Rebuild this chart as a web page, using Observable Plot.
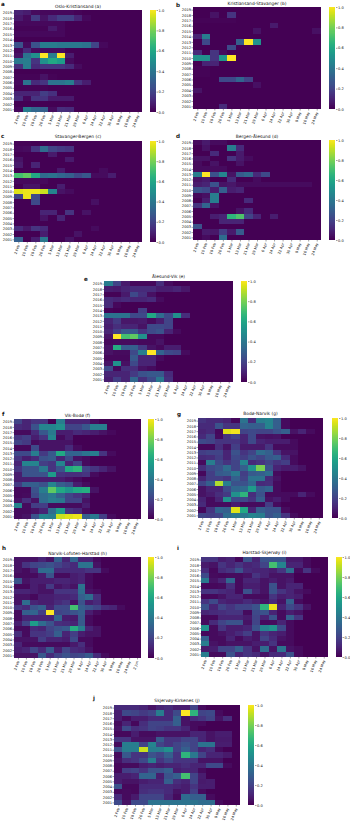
<!DOCTYPE html>
<html>
<head>
<meta charset="utf-8">
<script src="https://cdn.jsdelivr.net/npm/d3@7"></script>
<script src="https://cdn.jsdelivr.net/npm/@observablehq/plot@0.6"></script>
<style>
html,body{margin:0;padding:0;background:#fff}
#chart{position:relative;width:350px;height:823px;overflow:hidden;font-family:"DejaVu Sans",sans-serif;color:#111}
#chart svg{position:absolute;background:transparent;max-width:none;overflow:visible}
.t{position:absolute;font-size:4.4px;line-height:5px;white-space:nowrap;transform:translate(-50%,-50%)}
.l{position:absolute;font-size:5.6px;line-height:6px;font-weight:bold;transform:translateY(-50%)}
</style>
</head>
<body>
<div id="chart"></div>
<script>
const years = ["2019","2018","2017","2016","2015","2014","2013","2012","2011","2010","2009","2008","2007","2006","2005","2004","2003","2002","2001"];
const dates = ["2 Feb","10 Feb","18 Feb","26 Feb","5 Mar","13 Mar","21 Mar","29 Mar","6 Apr","14 Apr","22 Apr","30 Apr","8 May","16 May","24 May"];
const datesLong = [...dates,"2 Jun"];
const colorbarTicks = [0,0.2,0.4,0.6,0.8,1];

const osloKristiansand = [
[.1,.08,.03,.02,.02,.02,.02,.01],
[.07,.03,.17,.05,.12,.18,.18,.1,.02],
[.02,.02,.02,.02,.02,.02],
[.01,.01,.01,.01,.07,.02],
[.02,.02,.02,.02,.02,.02],
[],
[.25,.03,.25,.42,.42,.4,.4,.4,.38,.2,.02],
[.02,.12,.03,.03,.03,.03],
[.05,.38,.5,1,.42,1,.08],
[.4,.42,.15,.5,.6,.55,.03],
[.13,.42,.12,.15,.15,.15,.12,.03],
[],
[.01,.01,.01,.05,.01],
[.02,.38,.12,.15,.38,.38,.42,.15,.08],
[.01,.01,.01,.01],
[.1,.1,.1,.18,.14],
[.13,.02,.15,.15,.07,.07,.07],
[],
[.02,.42,.33,.3,.03,.13,.12]];

const kristiansandStavanger = [
[],
[0,0,.05,0,.15],
[.01,.01,.01,.01,.01],
[0,0,0,0,0,0,0,0,0,.07],
[0,0,0,0,0,0,0,.05,0,0,0,0,0,0,.04],
[.1,.42],
[0,.22,0,0,0,.3,1,.5],
[0,0,0,0,.22],
[.12,0,.15,.03],
[.5,.5,.15,.52,1],
[0,.1,.1],
[.01,.01],
[.01,.01],
[0,0,0,.22,.22,.32,.2],
[0,0,0,0,0,0,0,.04],
[.05],
[],
[],
[0,0,0,.12]];

const stavangerBergen = [
[.01,.01],
[.02,.03,.15,.35,.2,.17,.15],
[0,0,0,0,.07],
[.05,0,0,0,0,0,.07],
[.07,0,.1],
[0,0,0,0,0,.07,0,0,0,0,.03],
[.7,.75,.6,.35,.38,.33,.3,.22,.27,.03,.03,.08],
[.02,.02,.02,.02],
[0,.05,.05,0,0,.08],
[.95,.97,.97,.92,.45,.05,.03],
[.2,.97,.22],
[0,0,.22,0,0,0,0,0,0,.04],
[],
[0,0,0,.1,.1,0,.15,0,.05],
[0,0,0,.05,0,.1],
[],
[.12,.06,.15,.12,0,0,0,0,0,.03],
[0,0,0,.08,0,0,0,.05],
[.3,0,.08,.4,0,0,.05]];

const bergenAlesund = [
[.03,.07,.03,.03],
[0,.05,0,0,.42,.12],
[0,0,.12,0,0,.07],
[.05,.05,0,0,.15,.07,.03],
[.03,0,.05,0,0,.05],
[.03,.03,.03,.03],
[.42,1,.25,.45,.05,.28,.33,.12,.22],
[.05,.07,0,0,.12,0,0,.03],
[.08,.1,.25,.05,.06,.03,.03,.03,.03,.03,.03,.03,.03,.03],
[.25,.22,.08,.3,.08,.1],
[.02,.04,.42],
[0,.08,.42,0,0,0,.12],
[.15,.32,.05],
[0,0,0,0,0,.05,.12],
[0,0,.08,.1,.65,.72,.2,.1,0,.08],
[0,0,0,.1,.1,.1],
[.25],
[0,.07,.06,.18,.07,.28],
[0,.03,0,.35]];

const alesundVik = [
[.42,.2,.07,.02,.02,.02,.13,.03],
[.08,.07,.1,.12,.12,.12,.08,.08,.1,.06],
[.01,.01,.07,.22,.14,.04],
[.12,.1,.12,.1,.1,.12,.03],
[.12,.02],
[.01,0,0,0,.18],
[.38,.38,.38,.22,.22,.6,.35,.22,.5,.13],
[.1,.17,.06,.06,.07,.03,.08,.2],
[.08,.13,.1,.1,.05,.22,.22,.2],
[.1,.18,.27,.27,.15,.22,.25,.1,.03],
[.05,1,.7,.75,.5,.02,.02],
[.02,.03,.03,.03,.02,.02,.05],
[.05,.62,.28,.3,.17,.05,.02,.08,.08],
[.05,.03,.03,.22,.42,1,.32,.22,.2,.03],
[.02,.02,.02,.27,.1,.1,.03],
[.05,.5,.04,.22,.1,.1],
[.22,.02,.13,.13,.05,.03],
[.1,.1,.1,.17,.25,.27,.27,.12],
[.08,.18,.1,.33,.13,.22,.4,.14]];

const vikBodo = [
[.2,.1,.15,.15,0,.42,.1,.1,.1,.03],
[.12,.1,.25,.45,.45,.5,.2,.2,.27,.42,.42],
[.03,.03,.12,.27,.4,.08,.08,.12,.1,.08,.05,.02],
[.15,.18,.08,.15,.45,.03,.08],
[.2,.17,.03,.05,.05,.05,.05],
[.02,.02,.22,.05,.05,.05,.12,.03],
[.22,.22,.42,.17,.27,.6,.32,.32,.38,.42,.15,.03],
[.15,.08,.12,.25,.28,.1,.22,.05,.03],
[.1,.45,.45,.18,.15,.45,.1,.2,.03],
[.15,.25,.25,.4,.15,.25,.6,.65,.2,.15,.1,.05],
[.08,.25,.25,.25,.55,.15,.13,.13,.15,.03],
[.08,.08,.08,.08,.08,.08,.05,.03],
[.17,.3,.3,.25,.45,.3,.25,.08,.03],
[.02,.02,.25,.42,.75,.6,.52,.6,.62,.05],
[.02,.03,.22,.35,.4,.3,.2,.15,.1],
[.05,.13,.05,.35,.42,.4,.2,.2,.05],
[.45,.03,.18,.18,.03,.03,.03,.03,.08],
[.03,.03,.05,.1,.35,.55,.15,.12,.03],
[.03,.05,.25,.45,.42,.92,.95,.97,.3,.4,.18,.03]];

const bodoNarvik = [
[.15,.12,.12,.1,.02,.38,.12,.42,.45,.3,.03],
[.12,.12,.25,.15,.15,.32,.3,.3,.45,.3,.03],
[.1,.12,.02,.95,.98,.2,.22,.2,.2,.25,.3,.05,.1,.03],
[.12,.2,.03,.15,.2,.1,.22,.05,.04,.05],
[.22,.2,.15,.15,.15,.1,.22,.1,.08,.08,.08,.03],
[.02,.02,.13,.05,.18,.07,.07,.07,.15,.03,.03,.03],
[.18,.2,.2,.1,.25,.15,.2,.35,.3,.15,.05,.05],
[.12,.13,.18,.1,.22,.18,.25,.2,.27,.3,.12,.03],
[.03,.42,.22,.15,.2,.45,.12,.15,.2,.15,.18,.03],
[.13,.22,.25,.35,.2,.3,.5,.8,.25,.1,.07,.08,.05],
[.02,.18,.28,.3,.4,.18,.28,.3,.35,.03],
[.1,.18,.18,.15,.3,.2,.38,.38,.12,.05],
[.2,.3,.88,.42,.25,.25,.33,.12,.13,.03],
[.05,.1,.1,.22,.33,.35,.55,.28,.32,.03],
[.05,.08,.13,.17,.5,.65,.13,.25,.03,.03,.03,.03,.1,.03],
[.1,.03,.1,.5,.22,.22,.15,.3,.05,.08,.03],
[.12,.03,.03,.03,.08,.03,.03,.03,.18,.03],
[.02,.15,.32,.3,.95,.6,.1,.3,.25,.25,.03],
[.2,.18,.2,.35,.4,.4,.45,.42,.25,.3,.15,.03]];

const narvikHarstad = [
[.05,.05,.05,.1,.05,.3,.1,.32,.1,.1,.03],
[.05,.15,.2,.22,.25,.2,.15,.12,.38,.38,.05],
[.05,.03,.08,.35,.35,.12,.12,.12,.12,.15,.15,.03],
[.03,.03,.03,.08,.25,.03,.03,.08,.1,.03],
[.25,.05,.08,.08,.08,.1,.1,.08,.1,.03],
[.02,.02,.08,.05,.17,.05,.08,.05,.38,.03],
[.1,.1,.08,.05,.05,.15,.15,.15,.35,.05,.03],
[.05,.05,.02,.08,.08,.1,.1,.12,.3,.35,.13],
[.05,.35,.1,.08,.08,.12,.15,.05,.25,.08,.12],
[.15,.12,.25,.3,.1,.22,.22,.7,.3,.25,.2,.12,.1,.03],
[.03,.3,.32,.18,1,.2,.22,.25,.3,.08,.03],
[.03,.1,.1,.1,.1,.32,.08,.07,.28,.03],
[.08,.2,.55,.35,.25,.13,.12,.1,.28,.03],
[.03,.03,.12,.1,.2,.25,.28,.62,.42,.1,.05],
[.13,.03,.15,.15,.18,.3,.1,.18,.08,.05,.05],
[.05,.05,.05,.18,.1,.1,.08,.22,.03,.03],
[.1,.03,.03,.03,.03,.03,.03,.07,.13,.03],
[.08,.1,.2,.12,.27,.08,.2,.12,.1,.05],
[.05,.05,.05,.27,.12,.2,.25,.2,.22,.28,.12,.03]];

const harstadSkjervoy = [
[.15,.15,.08,.1,.02,.25,.1,.25,.25,.25,.07,.07,.03],
[.07,.05,.15,.1,.15,.1,.12,.2,.7,.45,.1,.1,.03],
[.12,.02,.12,.15,.25,.12,.1,.1,.08,.15,.35,.03,.15,.03],
[.22,.03,.02,.03,.03,.05,.15,.1,.05,.05,.05],
[.4,.05,.1,.33,.03,.1,.1,.05,.08,.05,.07],
[.02,.02,.03,.13,.03,.08,.08,.05,.25,.05,.1,.1],
[.15,.15,.12,.1,.03,.25,.1,.05,.25,.15,.1,.05,.03],
[.02,.02,.05,.1,.1,.03,.03,.03,.15,.08,.1,.08],
[.15,.22,.1,.08,.08,.12,.08,.05,.12,.05,.3,.03],
[.25,.1,.2,.15,.2,.2,.25,.65,.97,.1,.22,.15,.05],
[.1,.12,.13,.15,.15,.03,.22,.25,.1,.03,.08,.05],
[.02,.02,.1,.1,.1,.07,.2,.1,.25,.03,.3,.15],
[.03,.12,.2,.25,.25,.05,.2,.03,.03,.1,.03],
[.5,.03,.15,.08,.08,.1,.25,.45,.5,.22,.03],
[.02,.03,.05,.08,.12,.18,.05,.15,.1,.08,.03],
[.3,.03,.03,.1,.03,.08,.05,.2,.12,.05,.03],
[.42,.05,.03,.05,.05,.05,.08,.08,.15,.03,.03],
[.07,.08,.2,.2,.3,.15,.05,.35,.05,.38,.05,.03],
[.42,.03,.03,.25,.1,.15,.12,.05,.12,.12,.25,.03]];

const skjervoyKirkenes = [
[.12,.12,.12,.1,.05,.1,.12,.08,.08,.2,.03],
[.08,.22,.2,.17,.2,.42,.12,.22,1,.65,.2,.22,.03],
[.08,.03,.08,.08,.12,.12,.12,.3,.05,.12,.15,.2,.05,.13],
[.03,.1,.02,.13,.2,.2,.2,.3,.05,.03,.03],
[.05,.22,.13,.15,.2,.18,.15,.15,.1,.03],
[.02,.02,.08,.03,.03,.05,.05,.05,.05,.1,.1,.05,.08,.08],
[.15,.15,.05,.05,.05,.28,.15,.15,.2,.2,.1,.05,.07,.07],
[.03,.42,.42,.2,.45,.2,.15,.2,.25,.2,.38,.38,.08,.08],
[.25,.42,.42,.92,.42,.42,.5,.2,.3,.2,.1,.13,.03],
[.03,.27,.15,.15,.25,.2,.3,.15,.65,.4,.2,.1,.1,.07],
[.05,.13,.15,.22,.42,.15,.22,.15,.15,.15,.05,.05,.05],
[.02,.03,.03,.08,.1,.08,.1,.1,.13,.1,.1,.22,.22,.03],
[.02,.18,.2,.15,.25,.25,.3,.08,.1,.1,.03],
[.08,.08,.1,.32,.32,.08,.25,.3,.7,.2,.08],
[.08,.05,.05,.08,.1,.1,.3,.13,.1,.2,.07,.08],
[.25,.02,.02,.12,.12,.12,.12,.1,.08,.15,.08,.08],
[.02,.03,.02,.13,.15,.15,.12,.05,.08,.18,.03],
[.12,.03,.07,.2,.2,.2,.1,.03,.35,.3,.3,.03],
[.22,.05,.22,.22,.38,.38,.38,.38,.38,.38,.35,.35,.03]];

// Layout of each panel in page pixels: plot box, colorbar box, title and letter anchors.
const panels = [
 {name:"Oslo-Kristiansand (a)", letter:"a", values:osloKristiansand, cols:dates, x:14,y:10,w:128,h:102, cx:150,cw:5.5, ty:6, lx:1,ly:4},
 {name:"Kristiansand-Stavanger (b)", letter:"b", values:kristiansandStavanger, cols:dates, x:193,y:7,w:128,h:102, cx:329,cw:6, ty:3, lx:176,ly:5},
 {name:"Stavanger-Bergen (c)", letter:"c", values:stavangerBergen, cols:dates, x:14,y:141,w:128,h:101, cx:150,cw:5.5, ty:136, lx:1,ly:136},
 {name:"Bergen-Ålesund (d)", letter:"d", values:bergenAlesund, cols:dates, x:193,y:140,w:128,h:100, cx:329,cw:6, ty:136, lx:176,ly:136},
 {name:"Ålesund-Vik (e)", letter:"e", values:alesundVik, cols:dates, x:104,y:281,w:129,h:101, cx:241,cw:6, ty:276, lx:84,ly:279},
 {name:"Vik-Bodø (f)", letter:"f", values:vikBodo, cols:dates, x:14,y:419,w:127,h:100, cx:148,cw:6, ty:415, lx:2,ly:414},
 {name:"Bodø-Narvik (g)", letter:"g", values:bodoNarvik, cols:dates, x:198,y:418,w:125,h:100, cx:332,cw:6, ty:413, lx:177,ly:414},
 {name:"Narvik-Lofoten-Harstad (h)", letter:"h", values:narvikHarstad, cols:datesLong, x:14,y:557,w:127,h:101, cx:148,cw:6, ty:553, lx:2,ly:548},
 {name:"Harstad-Skjervøy (i)", letter:"i", values:harstadSkjervoy, cols:dates, x:201,y:557,w:127,h:100, cx:336,cw:5.5, ty:552, lx:177,ly:548},
 {name:"Skjervøy-Kirkenes (j)", letter:"j", values:skjervoyKirkenes, cols:dates, x:114,y:705,w:126,h:100, cx:248,cw:6, ty:700, lx:93,ly:698}
];

const chart = document.getElementById("chart");
const fontSize = 3.6;
const font = {fontFamily:"DejaVu Sans, sans-serif", fontSize:"3.6px", background:"transparent", color:"#111"};
const ml = 14, mb = 20, mr = 12, mv = 3;

function place(svg, left, top){
  svg.style.left = left + "px";
  svg.style.top = top + "px";
  chart.appendChild(svg);
}
function note(cls, text, left, top){
  const d = document.createElement("div");
  d.className = cls;
  d.textContent = text;
  d.style.left = left + "px";
  d.style.top = top + "px";
  chart.appendChild(d);
}

for (const p of panels) {
  const cells = years.flatMap((year,i)=> p.cols.map((col,j)=>({year, col, value: p.values[i][j] ?? 0})));
  place(Plot.plot({
    width: p.w + ml, height: p.h + mb,
    marginLeft: ml, marginRight: 0, marginTop: 0, marginBottom: mb,
    style: font,
    x: {domain: p.cols, padding: 0, round: false, label: null},
    y: {domain: years, padding: 0, round: false, label: null},
    color: {type: "linear", domain: [0,1], scheme: "viridis"},
    marks: [
      Plot.cell(cells, {x:"col", y:"year", fill:"value", shapeRendering:"crispEdges"}),
      Plot.axisY({anchor:"left", tickSize:1.5, tickPadding:1, fontSize, label:null, strokeWidth:.4}),
      Plot.axisX({anchor:"bottom", tickSize:1.5, tickPadding:1, tickRotate:-70, fontSize, label:null, strokeWidth:.4})
    ]
  }), p.x - ml, p.y);

  const steps = d3.range(0, 1, 0.01);
  place(Plot.plot({
    width: p.cw + mr, height: p.h + 2*mv,
    marginLeft: 0, marginRight: mr, marginTop: mv, marginBottom: mv,
    style: font,
    x: {axis: null, domain: [0,1]},
    y: {domain: [0,1], label: null},
    color: {type: "linear", domain: [0,1], scheme: "viridis"},
    marks: [
      Plot.rect(steps, {x1:0, x2:1, y1:d=>d, y2:d=>d+0.012, fill:d=>d, shapeRendering:"crispEdges"}),
      Plot.axisY(colorbarTicks, {anchor:"right", tickSize:1.5, tickPadding:1, fontSize, label:null, strokeWidth:.4, tickFormat:d3.format(".1f")})
    ]
  }), p.cx, p.y - mv);

  note("t", p.name, p.x + p.w/2, p.ty);
  note("l", p.letter, p.lx, p.ly);
}
</script>
</body>
</html>
